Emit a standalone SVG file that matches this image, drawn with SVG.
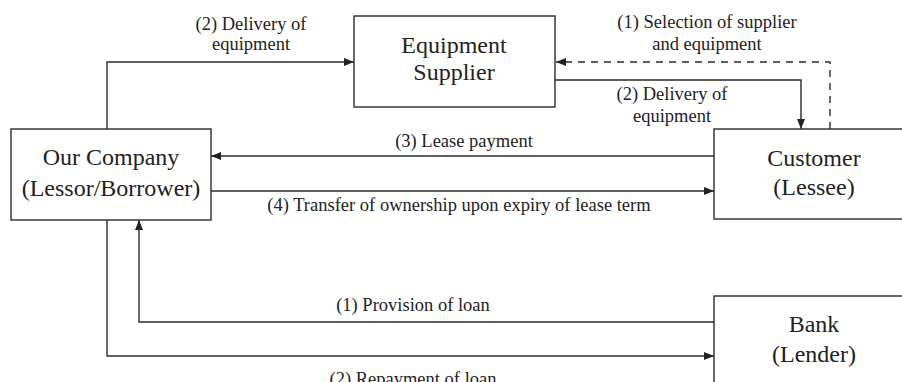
<svg xmlns="http://www.w3.org/2000/svg" width="902" height="382" viewBox="0 0 902 382">
<style>
.box{fill:#fff;stroke:#2a2a2a;stroke-width:1.4}
.node{font-family:"Liberation Serif","Times New Roman",serif;font-size:24px;fill:#222;text-anchor:middle}
.lbl{font-family:"Liberation Serif","Times New Roman",serif;font-size:18.5px;fill:#222;text-anchor:middle}
.ln{fill:none;stroke:#2a2a2a;stroke-width:1.4}
.dash{stroke-dasharray:7,6}
</style>
<defs>
<marker id="ah" viewBox="0 0 10 8" refX="10" refY="4" markerWidth="10" markerHeight="8" markerUnits="userSpaceOnUse" orient="auto">
<path d="M0,0 L10,4 L0,8 Z" fill="#222"/>
</marker>
</defs>
<rect width="902" height="382" fill="#fff"/>
<g id="connectors">
<path class="ln" d="M107,129 V62 H354" marker-end="url(#ah)"/>
<path class="ln dash" d="M830,129 V62 H556" marker-end="url(#ah)"/>
<path class="ln" d="M555,80 H801 V129" marker-end="url(#ah)"/>
<path class="ln" d="M714,156 H211" marker-end="url(#ah)"/>
<path class="ln" d="M211,191 H714" marker-end="url(#ah)"/>
<path class="ln" d="M714,322 H139 V220" marker-end="url(#ah)"/>
<path class="ln" d="M107,220 V356 H714" marker-end="url(#ah)"/>
</g>
<g id="labels">
<text class="lbl" x="251" y="30">(2) Delivery of</text>
<text class="lbl" x="251" y="50">equipment</text>
<text class="lbl" x="707" y="28">(1) Selection of supplier</text>
<text class="lbl" x="707" y="50">and equipment</text>
<text class="lbl" x="672" y="100">(2) Delivery of</text>
<text class="lbl" x="672" y="122">equipment</text>
<text class="lbl" x="464" y="147">(3) Lease payment</text>
<text class="lbl" x="459" y="211">(4) Transfer of ownership upon expiry of lease term</text>
<text class="lbl" x="413" y="311">(1) Provision of loan</text>
<text class="lbl" x="413" y="385">(2) Repayment of loan</text>
</g>
<g id="supplier">
<rect class="box" x="354" y="16" width="201" height="91"/>
<text class="node" x="454" y="53">Equipment</text>
<text class="node" x="454" y="80">Supplier</text>
</g>
<g id="company">
<rect class="box" x="11" y="129" width="200" height="91"/>
<text class="node" x="111" y="165">Our Company</text>
<text class="node" x="111" y="196">(Lessor/Borrower)</text>
</g>
<g id="customer">
<rect class="box" x="714" y="129" width="200" height="90"/>
<text class="node" x="814" y="166">Customer</text>
<text class="node" x="814" y="195">(Lessee)</text>
</g>
<g id="bank">
<rect class="box" x="714" y="296" width="200" height="100"/>
<text class="node" x="814" y="332">Bank</text>
<text class="node" x="814" y="362">(Lender)</text>
</g>
</svg>
